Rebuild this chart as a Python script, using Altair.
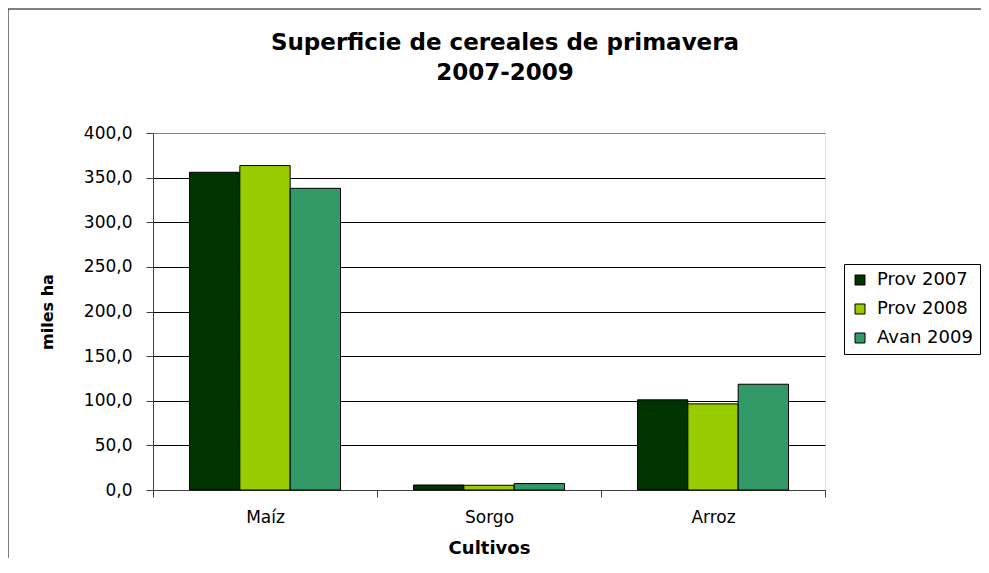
import altair as alt
import pandas as pd

cultivos = ["Maíz", "Sorgo", "Arroz"]
series = ["Prov 2007", "Prov 2008", "Avan 2009"]
prov_2007 = [356.0, 5.6, 101.0]
prov_2008 = [363.5, 5.3, 96.5]
avan_2009 = [338.0, 7.2, 118.5]
colores = ["#003300", "#99CC00", "#339966"]
y_ticks = [0, 50, 100, 150, 200, 250, 300, 350, 400]
titulo = ["Superficie de cereales de primavera", "2007-2009"]

rows = []
for s, vals in zip(series, [prov_2007, prov_2008, avan_2009]):
    for c, v in zip(cultivos, vals):
        rows.append({"cultivo": c, "serie": s, "valor": v})
df = pd.DataFrame(rows)

FONT = "DejaVu Sans"
W, H = 672, 357

one = pd.DataFrame({"k": [0]})
frame_left = alt.Chart(one).mark_rule(color="#000000", strokeWidth=1).encode(
    x=alt.value(-145), y=alt.value(-124), y2=alt.value(H + 100)
)
frame_top = alt.Chart(one).mark_rule(color="#000000", strokeWidth=1).encode(
    x=alt.value(-145), x2=alt.value(W + 200), y=alt.value(-124)
)

bars = alt.Chart(df).mark_bar(stroke="#000000", strokeWidth=1).encode(
    x=alt.X(
        "cultivo:N", sort=cultivos,
        scale=alt.Scale(paddingInner=0, paddingOuter=0),
        axis=alt.Axis(
            title="Cultivos", labelAngle=0, labelFontSize=17, labelFont=FONT,
            labelColor="#000000", labelPadding=12,
            tickBand="extent", tickSize=7, tickColor="#404040",
            domainColor="#404040", grid=False,
            titleFont=FONT, titleFontSize=18, titleFontWeight="bold",
            titleColor="#000000", titlePadding=14,
        ),
    ),
    xOffset=alt.XOffset(
        "serie:N", sort=series,
        scale=alt.Scale(paddingInner=0, paddingOuter=0.725),
    ),
    y=alt.Y(
        "valor:Q",
        scale=alt.Scale(domain=[0, 400], nice=False),
        axis=alt.Axis(
            title="miles ha", values=y_ticks,
            labelExpr="replace(format(datum.value, '.1f'), '.', ',')",
            labelFontSize=17, labelFont=FONT, labelColor="#000000",
            labelPadding=14, tickSize=7, tickColor="#404040",
            domainColor="#404040",
            grid=True,
            gridColor={"condition": {"test": "datum.value === 400", "value": "#808080"}, "value": "#000000"},
            gridOpacity=1, gridWidth=1,
            titleFont=FONT, titleFontSize=16, titleFontWeight="bold",
            titleColor="#000000", titleAngle=-90, titleBaseline="alphabetic",
            titleX=-101, titleY=H / 2,
        ),
    ),
    color=alt.Color(
        "serie:N", sort=series,
        scale=alt.Scale(domain=series, range=colores),
        legend=alt.Legend(
            title=None, orient="none", legendX=691, legendY=131,
            strokeColor="#000000", padding=7,
            labelFont=FONT, labelFontSize=18, labelColor="#000000",
            symbolType="square", symbolSize=100,
            symbolStrokeColor="#000000", symbolStrokeWidth=1,
            rowPadding=11, labelOffset=8,
        ),
    ),
)

chart = alt.layer(frame_left, frame_top, bars).properties(
    width=W, height=H,
    title=alt.Title(
        titulo, font=FONT, fontSize=23, fontWeight="bold", color="#000000",
        lineHeight=30, anchor="middle", frame="group", dx=16, offset=0, dy=99,
        baseline="bottom",
    ),
    autosize=alt.AutoSizeParams(type="none"),
    padding={"left": 145, "top": 125, "right": 156, "bottom": 68},
).configure_view(stroke="#808080").configure(background="#ffffff")

chart.save("out.html", embed_options={"renderer": "svg", "actions": False})
